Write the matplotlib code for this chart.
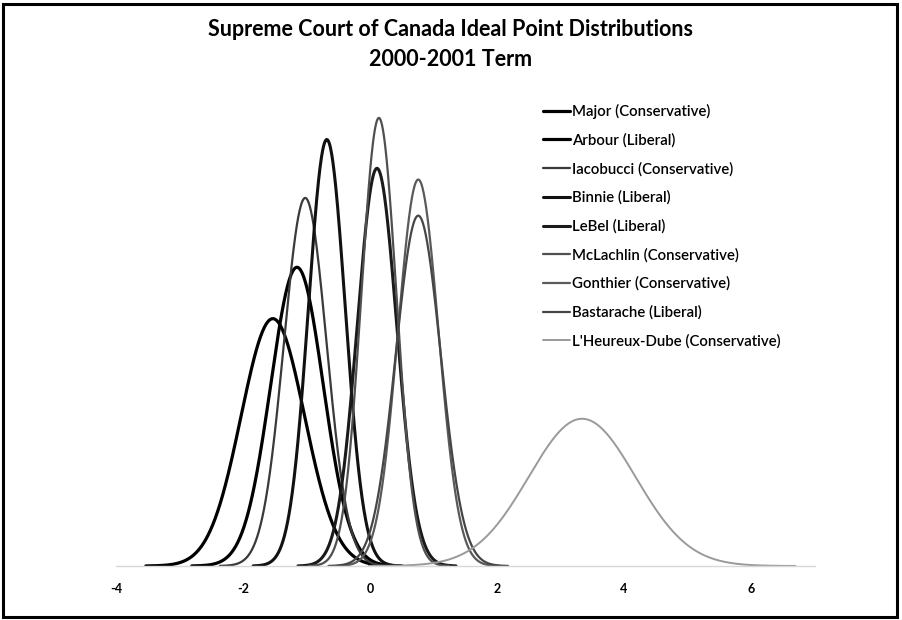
import numpy as np
import matplotlib
matplotlib.use("Agg")
import matplotlib.pyplot as plt
from matplotlib.patches import Rectangle

plt.rcParams['font.family'] = ['Lato', 'DejaVu Sans']

justices = ["Major (Conservative)", "Arbour (Liberal)", "Iacobucci (Conservative)",
            "Binnie (Liberal)", "LeBel (Liberal)", "McLachlin (Conservative)",
            "Gonthier (Conservative)", "Bastarache (Liberal)", "L'Heureux-Dube (Conservative)"]
means = [-1.53, -1.15, -1.02, -0.68, 0.11, 0.14, 0.76, 0.76, 3.34]
sds = [0.50, 0.414, 0.336, 0.290, 0.311, 0.276, 0.320, 0.353, 0.84]
colors = ["#000000", "#000000", "#3a3a3a", "#111111", "#1a1a1a",
          "#505050", "#5a5a5a", "#464646", "#9a9a9a"]
widths = [2.3, 2.3, 1.6, 2.2, 2.2, 1.6, 1.6, 1.6, 1.4]
xticks = [-4, -2, 0, 2, 4, 6]

fig = plt.figure(figsize=(9.02, 6.2), dpi=100)
ax = fig.add_axes([116 / 902, 54 / 620, 698.5 / 902, 465 / 620])

for name, m, s, c, w in zip(justices, means, sds, colors, widths):
    x = np.linspace(m - 4 * s, m + 4 * s, 400)
    y = np.exp(-0.5 * ((x - m) / s) ** 2) / (s * np.sqrt(2 * np.pi))
    ax.plot(x, y, color=c, lw=w, label=name, solid_capstyle='round')

ax.set_xlim(-4, 7)
ax.set_ylim(0, 1.5)
ax.set_xticks(xticks)
ax.set_xticklabels([str(t) for t in xticks], fontweight='bold', fontsize=9)
ax.tick_params(axis='x', length=0, pad=12)
ax.set_yticks([])
for sp in ['top', 'right', 'left']:
    ax.spines[sp].set_visible(False)
ax.spines['bottom'].set_color('#d8d8d8')
ax.spines['bottom'].set_linewidth(1.0)

leg = fig.legend(loc='upper left', bbox_to_anchor=(543 / 902, 1 - 104 / 620),
                 frameon=False, fontsize=10.8, handlelength=1.8, handletextpad=0.15,
                 labelspacing=0.95, borderpad=0, borderaxespad=0)
for t in leg.get_texts():
    t.set_fontweight('semibold')

fig.text(0.5, 1 - 30 / 620, "Supreme Court of Canada Ideal Point Distributions",
         ha='center', va='center', fontsize=15.5, fontweight='bold')
fig.text(0.5, 1 - 60 / 620, "2000-2001 Term",
         ha='center', va='center', fontsize=15.5, fontweight='bold')

fig.add_artist(Rectangle((3 / 902, 3 / 620), 894 / 902, 613 / 620,
                         transform=fig.transFigure, fill=False, lw=2.2, ec='black'))

fig.savefig("out.png", dpi=100)
